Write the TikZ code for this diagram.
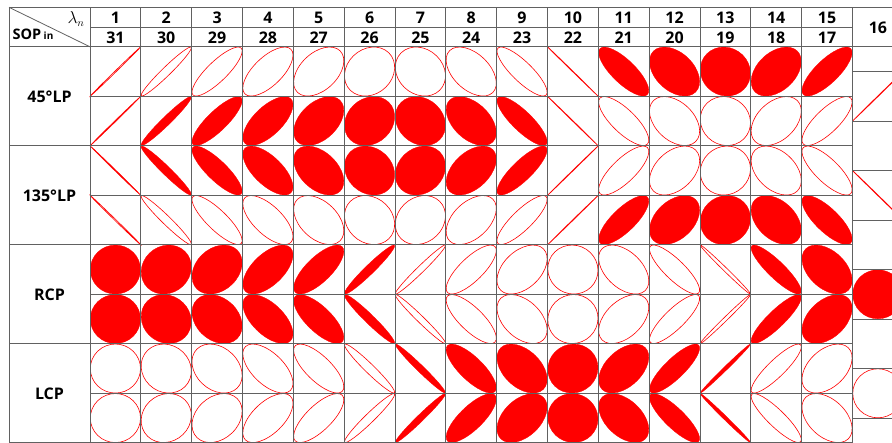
\documentclass[tikz,border=0pt]{standalone}
\usepackage{fontspec}
\setmainfont{Open Sans}
\tikzset{
  gridline/.style={draw=black!62, line width=0.8pt},
  outl/.style={draw=red, line width=0.6pt},
  filld/.style={fill=red, draw=red, line width=0.3pt},
  hdr/.style={font=\fontsize{16}{16}\selectfont\bfseries, inner sep=0pt},
  lbl/.style={font=\fontsize{16}{16}\selectfont\bfseries, inner sep=0pt},
}
% polarization ellipse in cell (column, subrow, phase)
\newcommand\pcell[3]{%
  \pgfmathsetmacro\pcx{90+50.83*((#1)-0.5)}%
  \pgfmathsetmacro\pcy{46.8+49.5*((#2)-0.5)}%
  \pgfmathsetmacro\pra{max(1.41421*abs(cos((#3)/2)),0.012)}%
  \pgfmathsetmacro\prb{max(1.41421*abs(sin((#3)/2)),0.012)}%
  \pgfmathtruncatemacro\pisf{sin(#3) < -0.01 ? 1 : 0}%
  \ifnum\pisf=1
    \path[filld, shift={(\pcx,\pcy)}, xscale=25.1, yscale=24.5, rotate=45] (0,0) ellipse ({\pra} and {\prb});
  \else
    \path[outl, shift={(\pcx,\pcy)}, xscale=25.1, yscale=24.5, rotate=45] (0,0) ellipse ({\pra} and {\prb});
  \fi
}
\begin{document}
\begin{tikzpicture}[x=1pt,y=-1pt]
\useasboundingbox (0,0) rectangle (892,442);
\clip (0,0) rectangle (892,442);
\fill[white] (0,0) rectangle (892,442);

% ellipses: 45 LP and 135 LP
\foreach \col/\del in {1/2,2/14,3/33,4/48,5/64,6/80,7/100,8/118,9/147,10/180,11/219,12/246,13/266,14/294,15/321}{
  \pcell{\col}{1}{\del}
  \pcell{\col}{2}{-\del}
  \pcell{\col}{3}{\del+180}
  \pcell{\col}{4}{180-\del}
}
% RCP and LCP
\foreach \col/\del in {1/270,2/276,3/286,4/307,5/318,6/345,7/11,8/39,9/64,10/92,11/118,12/147,13/174,14/208,15/244}{
  \pcell{\col}{5}{\del}
  \pcell{\col}{6}{180-\del}
  \pcell{\col}{7}{\del+180}
  \pcell{\col}{8}{-\del}
}
% column 16
\pcell{16}{1.5}{0}
\pcell{16}{3.5}{180}
\pcell{16}{5.5}{270}
\pcell{16}{7.5}{90}

% grid
\draw[gridline] (9,7.3) -- (903.3,7.3);
\draw[gridline] (90,27.3) -- (852.5,27.3);
\draw[gridline] (9,46.8) -- (903.3,46.8);
\foreach \r in {1,3,5,7}{
  \draw[gridline] (90,{46.8+49.5*\r}) -- (852.5,{46.8+49.5*\r});
}
\foreach \r in {2,4,6,8}{
  \draw[gridline] (9,{46.8+49.5*\r}) -- (852.5,{46.8+49.5*\r});
}
\foreach \k in {0,...,15}{
  \draw[gridline] ({90+50.83*\k},7.3) -- ({90+50.83*\k},442.8);
}
\draw[gridline] (9,7.3) -- (9,442.8);
\draw[gridline] (903.3,7.3) -- (903.3,442.8);
\foreach \r in {1,3,5,7}{
  \draw[gridline] (852.5,{46.8+49.5*\r-24.75}) -- (903.3,{46.8+49.5*\r-24.75});
  \draw[gridline] (852.5,{46.8+49.5*\r+24.75}) -- (903.3,{46.8+49.5*\r+24.75});
}
\draw[gridline] (9,7.3) -- (90,46.8);

% header
\foreach \k/\b in {1/31,2/30,3/29,4/28,5/27,6/26,7/25,8/24,9/23,10/22,11/21,12/20,13/19,14/18,15/17}{
  \node[hdr] (top\k) at ({90+50.83*(\k-0.5)},17.6) {\k};
  \node[hdr] (bot\k) at ({90+50.83*(\k-0.5)},37.4) {\b};
}
\node[hdr] (top16) at (877.9,27.4) {16};
\node[inner sep=0pt, font=\fontsize{16}{16}\selectfont] (lam) at (76,19) {$\lambda_n$};
\node[anchor=base west, inner sep=0pt, font=\fontsize{14.5}{14.5}\selectfont\bfseries] (sop) at (12.5,39.3) {SOP\,\raisebox{-0.5pt}{\fontsize{10}{10}\selectfont in}};

% row labels
\node[lbl] (lp45) at (49.5,96.8) {45°LP};
\node[lbl] (lp135) at (49.5,195.8) {135°LP};
\node[lbl] (rcp) at (49.5,294.8) {RCP};
\node[lbl] (lcp) at (49.5,393.8) {LCP};
\end{tikzpicture}
\end{document}
